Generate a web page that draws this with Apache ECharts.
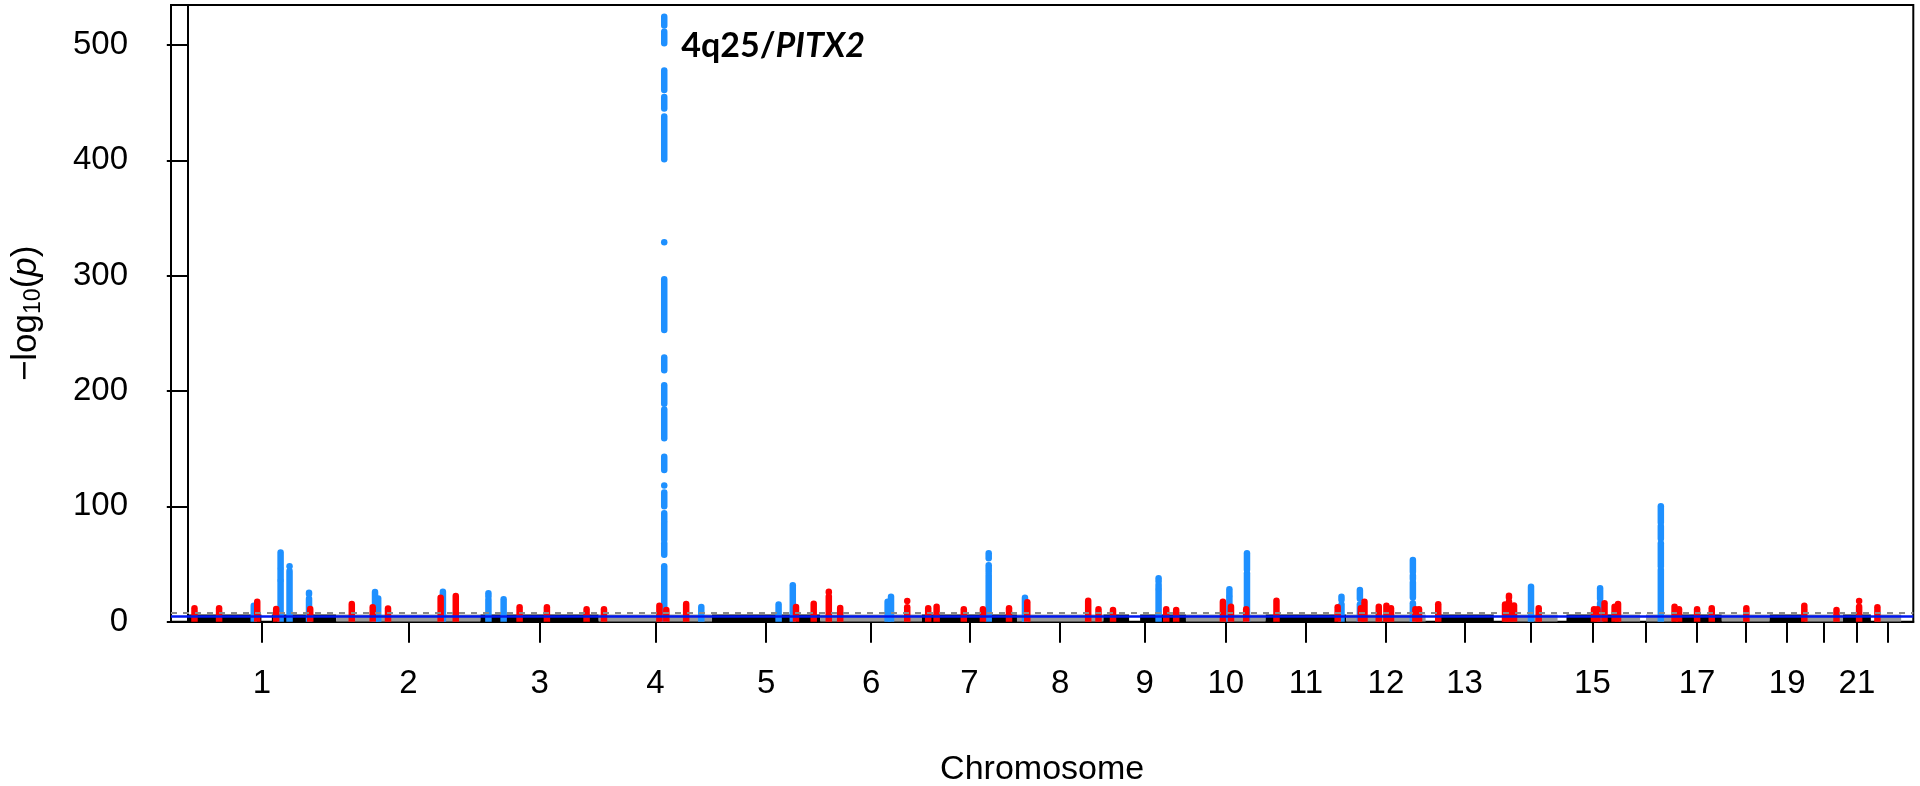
<!DOCTYPE html>
<html>
<head>
<meta charset="utf-8">
<script src="https://cdn.jsdelivr.net/npm/echarts@6/dist/echarts.min.js"></script>
<style>
html,body{margin:0;padding:0;background:#ffffff;}
#chart{width:1920px;height:786px;}
</style>
</head>
<body>
<div id="chart"></div>
<script>
// ---------------- data ----------------
const chromosomes = ['1','2','3','4','5','6','7','8','9','10','11','12','13','14','15','16','17','18','19','20','21','22'];
const chrLengthMb = [248.96, 242.19, 198.30, 190.21, 181.54, 170.81, 159.35, 145.14, 138.39, 133.80, 135.09, 133.28, 114.36, 107.04, 101.99, 90.34, 83.26, 80.37, 58.62, 64.44, 46.71, 50.82];
// regions without SNPs (white notches in the background band)
const snpGapChr = ['1', '9', '13', '14', '15', '16', '22'];
const snpGapMb = [[123.5, 141], [43, 61.5], [0, 16.5], [0, 16], [0, 15], [36.5, 46.5], [0, 7]];
const labeledChromosomes = ['1','2','3','4','5','6','7','8','9','10','11','12','13','15','17','19','21'];
const backgroundTop = 6.3;      // dense mass of non-significant SNPs
const suggestiveLine = 5;
const genomeWideLine = 8;
const yTicks = [0, 100, 200, 300, 400, 500];

// known loci (blue): chromosome, position (Mb), runs of SNPs [low, high] in -log10(p)
const knownChr = ['1','1','1','1','2','2','2','3','3','4','4','5','5','6','6','7','8','9','10','10','11','12','12','14','15','16'];
const knownPosMb = [110.7, 155.7, 170.7, 203.4, 65.2, 70.5, 179.1, 13.3, 38.8, 110.0, 172.2, 111.7, 135.5, 113.1, 118.8, 111.9, 13.4, 92.5, 72.9, 102.4, 127.2, 23.0, 111.9, 62.5, 71.4, 71.3];
const knownRuns = [
  [[0, 13.8]],
  [[0, 35], [36.5, 45], [47, 60]],
  [[0, 44], [48, 48]],
  [[0, 20], [24, 25]],
  [[0, 25.7]],
  [[0, 20.2]],
  [[0, 26]],
  [[0, 19], [22, 24.6]],
  [[0, 19.4]],
  [[0, 48], [58, 68], [71, 86], [88, 94], [100, 112], [118, 118], [131.5, 143], [159, 184], [189, 205], [218, 229], [253, 297], [329, 329], [401, 438], [445, 455], [461, 478], [501.5, 511.5], [517, 524.5]],
  [[0, 12.8]],
  [[0, 14.9]],
  [[0, 31.5]],
  [[0, 17.3]],
  [[0, 21.7]],
  [[0, 40.5], [43, 49], [55, 59.3]],
  [[0, 20.8]],
  [[0, 27], [29, 32], [35, 37.6]],
  [[0, 21], [23, 28.1]],
  [[0, 42], [45, 59.3]],
  [[0, 15], [19, 21.7]],
  [[0, 15], [20, 27.5]],
  [[0, 16], [21, 34], [37, 40], [43, 53.5]],
  [[0, 30.3]],
  [[0, 16], [20, 29]],
  [[0, 45], [48, 68], [72, 83], [86, 100]]
];

// novel loci (red)
const novelChr = ['1','1','1','1','1','2','2','2','2','2','3','3','3','4','4','4','4','5','5','6','6','6','7','7','7','7','7','8','8','8','9','9','9','10','10','10','11','11','12','12','12','12','12','12','12','13','14','14','14','14','15','15','15','15','15','17','17','17','17','18','19','20','21','22'];
const novelPosMb = [11.2, 52.5, 116.5, 148.3, 205.4, 26.2, 61.3, 87.0, 175.3, 200.7, 65.6, 111.4, 178.0, 8.9, 101.9, 113.5, 146.8, 140.9, 170.6, 14.4, 33.5, 146.0, 10.4, 24.5, 70.1, 102.2, 146.0, 17.3, 119.5, 136.8, 16.0, 105.3, 122.0, 62.0, 75.6, 101.1, 18.1, 120.8, 24.6, 30.7, 54.7, 67.5, 75.2, 116.1, 122.2, 21.2, 18.9, 25.5, 34.0, 75.4, 61.2, 67.0, 78.8, 95.7, 101.5, 4.0, 11.5, 41.8, 66.4, 41.2, 58.1, 53.5, 27.0, 11.0];
const novelRuns = [
  [[0, 11.6]], [[0, 11.6]], [[0, 17.3]], [[0, 11]], [[0, 11]],
  [[0, 15.3]], [[0, 12.5]], [[0, 11.5]], [[0, 20.8]], [[0, 22.3]],
  [[0, 12.5]], [[0, 12.5]], [[0, 10.7]],
  [[0, 10.7]], [[0, 13.8]], [[0, 10.1]], [[0, 15.3]],
  [[0, 12.8]], [[0, 15.6]],
  [[0, 21.9], [25.5, 26]], [[0, 11.9]], [[0, 12.5], [17.9, 17.9]],
  [[0, 11.6]], [[0, 13]], [[0, 10.7]], [[0, 10.7]], [[0, 11.6]],
  [[0, 16.8]], [[0, 18.2]], [[0, 10.7]],
  [[0, 10.1]], [[0, 10.7]], [[0, 10.1]],
  [[0, 17.3]], [[0, 13]], [[0, 10.7]],
  [[0, 18.2]], [[0, 12.5]],
  [[0, 11.6]], [[0, 17.3]], [[0, 13]], [[0, 13.8]], [[0, 11.6]], [[0, 10.7]], [[0, 10.7]],
  [[0, 15.1]],
  [[0, 15]], [[0, 17.3], [21, 22.5]], [[0, 14]], [[0, 11.6]],
  [[0, 10.7]], [[0, 10.7]], [[0, 15.9]], [[0, 13]], [[0, 15.3]],
  [[0, 13]], [[0, 10.7]], [[0, 10.7]], [[0, 11.6]],
  [[0, 11.6]],
  [[0, 9.3], [11.5, 13.9]],
  [[0, 10.1]],
  [[0, 13], [17.9, 17.9]],
  [[0, 12.5]]
];

const annotationChr = '4';
const annotationPosMb = 110.0;
const annotationValue = 498.7;

// ---------------- derived ----------------
const chrStart = [];
let acc = 0;
chrLengthMb.forEach(function (len) { chrStart.push(acc); acc += len; });

function genomePos(chr, pos) { return chrStart[chromosomes.indexOf(chr)] + pos; }

// background band segments (covered regions, alternating colours)
const bandData = [];
const bandParity = [];
chromosomes.forEach(function (c, i) {
  const gaps = [];
  snpGapChr.forEach(function (g, k) { if (g === c) gaps.push(snpGapMb[k]); });
  let s = 0;
  gaps.forEach(function (g) {
    if (g[0] > s) { bandData.push([chrStart[i] + s, chrStart[i] + g[0], backgroundTop]); bandParity.push(i % 2); }
    s = g[1];
  });
  bandData.push([chrStart[i] + s, chrStart[i] + chrLengthMb[i], backgroundTop]);
  bandParity.push(i % 2);
});

// tick positions: middle of each chromosome's covered range
const tickPos = chromosomes.map(function (c, i) {
  let lo = 0;
  snpGapChr.forEach(function (g, k) { if (g === c && snpGapMb[k][0] === 0) lo = snpGapMb[k][1]; });
  return chrStart[i] + (lo + chrLengthMb[i]) / 2;
});
const labelPos = labeledChromosomes.map(function (c) { return tickPos[chromosomes.indexOf(c)]; });

function runsToData(chrs, poss, runs) {
  const out = [];
  chrs.forEach(function (c, i) {
    runs[i].forEach(function (r) { out.push([genomePos(c, poss[i]), r[0], r[1]]); });
  });
  return out;
}
const knownData = runsToData(knownChr, knownPosMb, knownRuns);
const novelData = runsToData(novelChr, novelPosMb, novelRuns);

// ---------------- chart ----------------
const BLUE = '#1E90FF', RED = '#FF0000', BLACK = '#000000', GRAY = '#999999';
const PEAK_W = 6.5;

function renderBand(params, api) {
  const a = api.coord([api.value(0), api.value(2)]);
  const b = api.coord([api.value(1), 0]);
  return {
    type: 'rect',
    shape: { x: a[0], y: a[1], width: b[0] - a[0], height: b[1] - a[1] },
    style: { fill: bandParity[params.dataIndex] ? GRAY : BLACK }
  };
}
function makePeakRenderer(color) {
  return function (params, api) {
    const top = api.coord([api.value(0), api.value(2)]);
    const bot = api.coord([api.value(0), api.value(1)]);
    return {
      type: 'rect',
      shape: { x: top[0] - PEAK_W / 2, y: top[1] - PEAK_W / 2, width: PEAK_W, height: bot[1] - top[1] + PEAK_W, r: PEAK_W / 2 },
      style: { fill: color }
    };
  };
}

const FONT = 'Liberation Sans, Arial, Helvetica, sans-serif';
const chart = echarts.init(document.getElementById('chart'), null, { renderer: 'canvas' });

chart.setOption({
  animation: false,
  backgroundColor: '#ffffff',
  grid: {
    left: 171, right: 6.7, top: 5, bottom: 164.3,
    show: true, borderColor: '#000', borderWidth: 2, backgroundColor: 'transparent',
    outerBoundsMode: 'none'
  },
  xAxis: {
    type: 'value',
    min: -28.2, max: 2895.4,
    splitLine: { show: false },
    axisLine: { show: true, lineStyle: { color: '#000', width: 2 } },
    axisTick: { show: true, length: 21, lineStyle: { color: '#000', width: 2 }, customValues: tickPos },
    axisLabel: {
      show: true, customValues: labelPos, margin: 46,
      fontSize: 33, fontFamily: FONT, color: '#000',
      formatter: function (v) {
        let best = 0, d = Infinity;
        tickPos.forEach(function (t, i) { if (Math.abs(t - v) < d) { d = Math.abs(t - v); best = i; } });
        return chromosomes[best];
      }
    },
    name: 'Chromosome',
    nameLocation: 'middle',
    nameGap: 131,
    nameMoveOverlap: false,
    nameTextStyle: { fontSize: 34, fontFamily: FONT, color: '#000' }
  },
  yAxis: {
    type: 'value',
    min: 0, max: 534.7,
    splitLine: { show: false },
    axisLine: { show: true, lineStyle: { color: '#000', width: 2 } },
    axisTick: { show: true, length: 21, lineStyle: { color: '#000', width: 2 }, customValues: yTicks },
    axisLabel: { show: true, customValues: yTicks, margin: 43, fontSize: 33, fontFamily: FONT, color: '#000' },
    name: '{m|−log}{s|10}{m|(}{i|p}{m|)}',
    nameLocation: 'middle',
    nameGap: 126,
    nameMoveOverlap: false,
    nameTextStyle: {
      color: '#000',
      rich: {
        m: { fontSize: 35, fontFamily: FONT, color: '#000', lineHeight: 38 },
        s: { fontSize: 23, fontFamily: FONT, color: '#000', lineHeight: 12, verticalAlign: 'bottom' },
        i: { fontSize: 35, fontFamily: FONT, fontStyle: 'italic', color: '#000', lineHeight: 38 }
      }
    }
  },
  series: [
    {
      type: 'custom', name: 'background', z: 1, clip: true,
      renderItem: renderBand,
      encode: { x: [0, 1], y: 2 },
      data: bandData
    },
    {
      type: 'scatter', name: 'thresholds', z: 2, data: [],
      markLine: {
        silent: true, symbol: ['none', 'none'], label: { show: false }, animation: false,
        data: [
          { yAxis: suggestiveLine, lineStyle: { color: '#0018f0', width: 2.5, type: 'solid' } },
          { yAxis: genomeWideLine, lineStyle: { color: '#8a8a8a', width: 2, type: [6, 6] } }
        ]
      },
      markPoint: {
        silent: true, symbol: 'circle', symbolSize: 0.1,
        itemStyle: { color: 'rgba(0,0,0,0)' },
        data: [{ coord: [genomePos(annotationChr, annotationPosMb), annotationValue] }],
        label: {
          show: true, position: 'right', distance: 17,
          formatter: '{a|4q25/}{b|PITX2}',
          rich: {
            a: { fontFamily: 'Lato, Open Sans, sans-serif', fontWeight: 'bold', fontSize: 34, color: '#000' },
            b: { fontFamily: 'Lato, Open Sans, sans-serif', fontWeight: 'bold', fontStyle: 'italic', fontSize: 34, color: '#000' }
          }
        }
      }
    },
    {
      type: 'custom', name: 'known', z: 3, clip: true,
      renderItem: makePeakRenderer(BLUE),
      encode: { x: 0, y: [1, 2] },
      data: knownData
    },
    {
      type: 'custom', name: 'novel', z: 4, clip: true,
      renderItem: makePeakRenderer(RED),
      encode: { x: 0, y: [1, 2] },
      data: novelData
    }
  ]
});
</script>
</body>
</html>
